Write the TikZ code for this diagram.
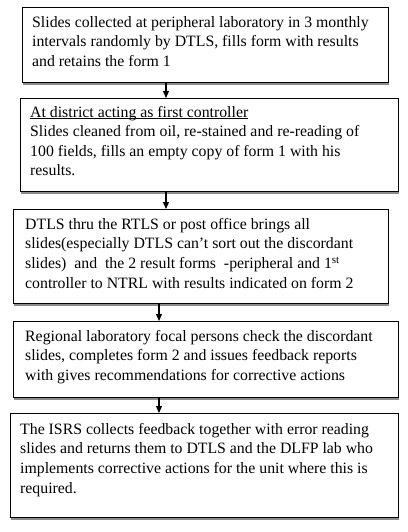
\documentclass[tikz,border=0pt]{standalone}
\usepackage{fontspec}
\setmainfont{Liberation Serif}
\usetikzlibrary{arrows.meta,calc}
\newcommand{\ulfirst}[1]{\underline{\smash{#1}}\vphantom{Ah}}
\begin{document}
\begin{tikzpicture}[x=1pt,y=-1pt,
  box/.style={draw=black, line width=0.9pt, fill=white, inner sep=0pt, anchor=north west},
  shade/.style={draw=black!45, line width=1.6pt},
  txt/.style={anchor=north west, inner sep=0pt, align=left, font=\fontsize{15.8}{19.6}\selectfont},
  flow/.style={-{Triangle[length=7pt,width=6pt]}, line width=1.2pt}]
\useasboundingbox (0,0) rectangle (407,532);
% boxes
\node[box, minimum width=366pt, minimum height=75pt] (b1) at (22,7) {};
\node[box, minimum width=378pt, minimum height=93pt] (b2) at (20,98) {};
\node[box, minimum width=375pt, minimum height=94pt] (b3) at (13,209) {};
\node[box, minimum width=385pt, minimum height=76pt] (b4) at (13,321) {};
\node[box, minimum width=388pt, minimum height=104pt] (b5) at (10,413) {};
% shadows on bottom edges
\foreach \b in {b1,b2,b3,b4,b5}{
  \draw[shade] ($(\b.south west)+(1,1.2)$) -- ($(\b.south east)+(0,1.2)$);
}
% texts
\node[txt] (t1) at ($(b1.north west)+(10,9)$) {Slides collected at peripheral laboratory in 3 monthly\\intervals randomly by DTLS, fills form with results\\and retains the form 1};
\node[txt] (t2) at ($(b2.north west)+(10,8)$) {\ulfirst{At district acting as first controller}\\Slides cleaned from oil, re-stained and re-reading of\\100 fields, fills an empty copy of form 1 with his\\results.};
\node[txt] (t3) at ($(b3.north west)+(12,9)$) {DTLS thru the RTLS or post office brings all\\slides(especially DTLS can’t sort out the discordant\\slides)\ \ and\ \ the 2 result forms\ \ -peripheral and 1\textsuperscript{st}\\controller to NTRL with results indicated on form 2};
\node[txt] (t4) at ($(b4.north west)+(12,9)$) {Regional laboratory focal persons check the discordant\\slides, completes form 2 and issues feedback reports\\with gives recommendations for corrective actions};
\node[txt] (t5) at ($(b5.north west)+(10,10)$) {The ISRS collects feedback together with error reading\\slides and returns them to DTLS and the DLFP lab who\\implements corrective actions for the unit where this is\\required.};
% connectors
\coordinate (xa) at (166,0);
\coordinate (xb) at (159,0);
\draw[flow] (b1.south -| xa) -- (b2.north -| xa);
\draw[flow] (b2.south -| xa) -- (b3.north -| xa);
\draw[flow] (b3.south -| xb) -- (b4.north -| xb);
\draw[flow] (b4.south -| xb) -- (b5.north -| xb);
\end{tikzpicture}
\end{document}
